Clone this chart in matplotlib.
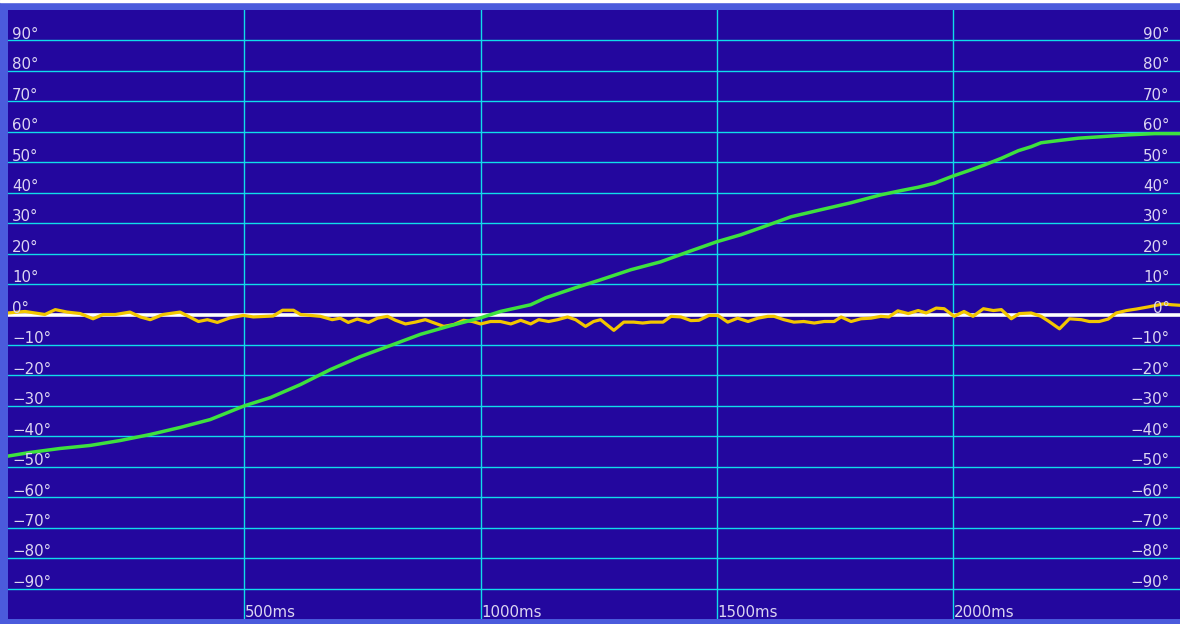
import matplotlib
matplotlib.use("Agg")
import matplotlib.pyplot as plt

# ---------------- data ----------------
green_t = [0, 47, 110, 174, 237, 301, 364, 428, 500, 555, 619, 682, 746, 809, 873, 936,
           1000, 1042, 1106, 1138, 1201, 1254, 1318, 1381, 1445, 1500, 1551, 1593, 1657,
           1720, 1784, 1847, 1890, 1926, 1960, 2000, 2032, 2066, 2102, 2138, 2165, 2186,
           2222, 2265, 2314, 2371, 2426, 2481]
green_v = [-46.5, -45.3, -44.0, -43.0, -41.4, -39.4, -37.1, -34.5, -30.0, -27.3, -23.0,
           -18.1, -13.8, -10.2, -6.5, -3.7, -1.1, 1.0, 3.2, 5.5, 8.8, 11.4, 14.7, 17.3,
           20.9, 23.9, 26.2, 28.5, 32.1, 34.4, 36.7, 39.3, 40.7, 41.8, 43.1, 45.5, 47.2,
           49.1, 51.3, 53.8, 55.1, 56.4, 57.1, 57.9, 58.4, 59.0, 59.4, 59.4]

yellow_t = [0, 36, 78, 100, 125, 153, 180, 201, 227, 258, 280, 301, 328, 364, 403, 422,
            443, 470, 498, 519, 561, 581, 604, 619, 661, 686, 703, 720, 739, 763, 782,
            803, 820, 841, 862, 883, 922, 943, 964, 983, 1000, 1021, 1042, 1064, 1085,
            1106, 1123, 1144, 1163, 1184, 1201, 1222, 1239, 1254, 1282, 1303, 1324, 1343,
            1360, 1386, 1403, 1424, 1445, 1462, 1483, 1502, 1523, 1544, 1566, 1587, 1608,
            1621, 1642, 1663, 1684, 1706, 1727, 1748, 1763, 1784, 1805, 1826, 1847, 1864,
            1883, 1905, 1926, 1943, 1964, 1981, 2002, 2023, 2042, 2064, 2085, 2102, 2123,
            2140, 2165, 2186, 2203, 2225, 2246, 2271, 2288, 2309, 2328, 2345, 2367, 2388,
            2413, 2445, 2462, 2483]
yellow_v = [0.5, 1.0, 0.0, 1.6, 0.8, 0.3, -1.4, 0.0, 0.0, 0.8, -0.8, -1.7, 0.0, 0.8,
            -2.3, -1.7, -2.6, -1.1, -0.3, -0.8, -0.5, 1.4, 1.4, 0.0, -0.6, -1.7, -1.2,
            -2.6, -1.5, -2.6, -1.2, -0.6, -1.9, -3.1, -2.5, -1.7, -3.9, -3.3, -1.9, -2.3,
            -3.1, -2.3, -2.3, -3.1, -1.9, -3.1, -1.7, -2.3, -1.7, -0.8, -1.7, -3.9, -2.3,
            -1.7, -5.2, -2.5, -2.5, -2.8, -2.5, -2.5, -0.6, -0.8, -2.0, -1.9, -0.3, -0.3,
            -2.5, -1.2, -2.3, -1.2, -0.6, -0.6, -1.7, -2.5, -2.3, -2.8, -2.3, -2.3, -0.8,
            -2.3, -1.4, -1.2, -0.6, -0.8, 1.2, 0.3, 1.3, 0.5, 2.1, 1.9, -0.6, 1.0, -0.6,
            1.9, 1.3, 1.6, -1.4, 0.3, 0.5, -0.6, -2.3, -4.7, -1.4, -1.7, -2.3, -2.3, -1.5,
            0.5, 1.3, 1.8, 2.5, 3.5, 3.2, 3.0]

y_ticks = [90, 80, 70, 60, 50, 40, 30, 20, 10, 0, -10, -20, -30, -40, -50, -60, -70, -80, -90]
x_ticks = [500, 1000, 1500, 2000]
x_tick_labels = ["500ms", "1000ms", "1500ms", "2000ms"]

# ---------------- style ----------------
BG = "#23079e"
BORDER = "#4b5bdc"
GRID = "#10dcea"
TXT = "#dcd6f2"
FS = 10.8

W, H = 1180, 624
fig = plt.figure(figsize=(W / 100, H / 100), dpi=100, facecolor=BORDER)
ax_l, ax_r, ax_t, ax_b = 8, 1180, 10, 619
ax = fig.add_axes([ax_l / W, (H - ax_b) / H, (ax_r - ax_l) / W, (ax_b - ax_t) / H])
ax.set_facecolor(BG)
ax.set_xlim(0, 2480)
ax.set_ylim(-100, 100)
for s in ax.spines.values():
    s.set_visible(False)
ax.set_xticks([])
ax.set_yticks([])

fig.patches.append(plt.Rectangle((0, 1 - 2 / H), 1, 2 / H, transform=fig.transFigure,
                                 color="white", zorder=0))

for v in y_ticks:
    if v == 0:
        continue
    ax.axhline(v, color=GRID, lw=1.0, zorder=1)
for v in x_ticks:
    ax.axvline(v, color=GRID, lw=1.0, zorder=1)
ax.axhline(0, color="white", lw=2.6, zorder=2)

ax.plot(yellow_t, yellow_v, color="#f2c600", lw=2.3, zorder=3)
ax.plot(green_t, green_v, color="#3ee23e", lw=2.5, zorder=4)

def deg(v):
    return ("\u2212" if v < 0 else "") + f"{abs(v)}\u00b0"

for v in y_ticks:
    ax.annotate(deg(v), xy=(0, v), xycoords=("axes fraction", "data"),
                xytext=(3.0, 1.2), textcoords="offset points",
                ha="left", va="baseline", color=TXT, fontsize=FS, zorder=6)
    ax.annotate(deg(v), xy=(1, v), xycoords=("axes fraction", "data"),
                xytext=(-7.5, 1.2), textcoords="offset points",
                ha="right", va="baseline", color=TXT, fontsize=FS, zorder=6)

for v, lab in zip(x_ticks, x_tick_labels):
    ax.annotate(lab, xy=(v, 0), xycoords=("data", "axes fraction"),
                xytext=(0.6, 1.5), textcoords="offset points",
                ha="left", va="baseline", color=TXT, fontsize=FS, zorder=6)

fig.savefig("out.png", dpi=100, facecolor=fig.get_facecolor())
